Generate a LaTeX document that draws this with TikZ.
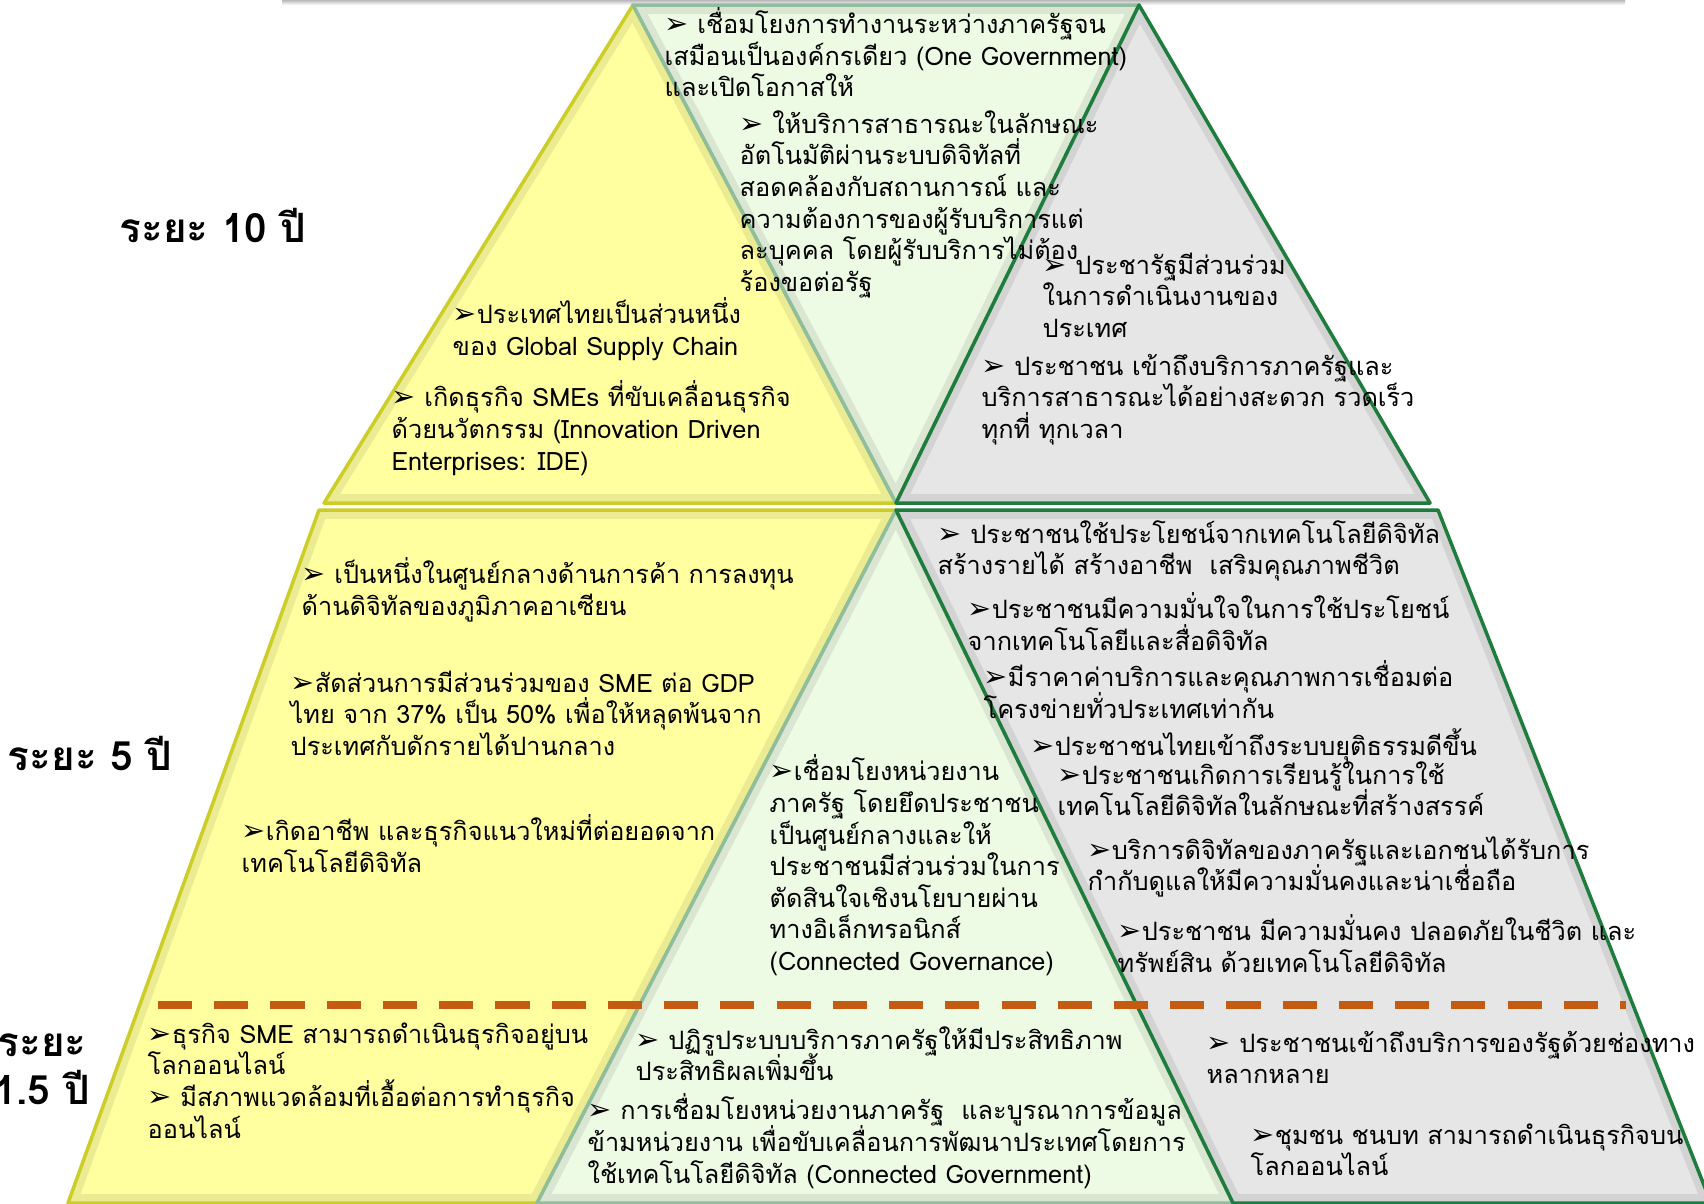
\documentclass[tikz,border=0pt]{standalone}
\usepackage{fontspec}
\usepackage{tikz}
\usepackage{xcolor}
\newfontfamily\thaif[Script=Thai]{Loma}
\newfontfamily\arrowf{DejaVu Sans}
\definecolor{pyellow}{RGB}{255,255,160}
\definecolor{pgreen}{RGB}{237,250,228}
\definecolor{pgray}{RGB}{230,230,230}
\definecolor{yedge}{RGB}{205,205,40}
\definecolor{gedge}{RGB}{30,125,60}
\definecolor{dashor}{RGB}{197,90,17}
\newcommand\bul{\rule{0pt}{7pt}{\arrowf\fontsize{8.2}{9}\selectfont ➢}}
\lineskiplimit=-9pt

\tikzset{
  txt/.style={font=\fontsize{7.2}{9}\thaif, align=left, inner sep=0pt, anchor=north west},
  era/.style={font=\fontsize{11.5}{13.7}\thaif\bfseries, align=center, inner sep=0pt},
  rim/.style={line width=5pt, draw=black, opacity=0.08},
  yelzone/.style={fill=pyellow, draw=yedge, line width=1pt, line join=round},
  grnzone/.style={fill=pgreen, draw=gedge!50, line width=1pt, line join=round},
  gryzone/.style={fill=pgray, draw=gedge, line width=1pt, line join=round}
}

\begin{document}
\begin{tikzpicture}[x=1cm, y=-1cm]
\useasboundingbox (0,0) rectangle (17.04,12.03);

% Corner points of the layers
\coordinate (ta) at (6.33,0.05);
\coordinate (tb) at (11.39,0.05);
\coordinate (tc) at (3.24,5.03);
\coordinate (td) at (8.96,5.03);
\coordinate (te) at (14.30,5.03);
\coordinate (ma) at (3.19,5.10);
\coordinate (mb) at (8.96,5.10);
\coordinate (mc) at (14.38,5.10);
\coordinate (ba) at (0.68,12.03);
\coordinate (bb) at (5.37,12.03);
\coordinate (bc) at (12.33,12.03);
\coordinate (bd) at (17.11,12.03);

% Shadow strip along the top
\shade[top color=gray!55, bottom color=white] (2.82,0) rectangle (16.25,0.05);

% Top layer: three triangles
\draw[yelzone, path picture={\draw[rim] (ta)--(td)--(tc)--cycle;}] (ta) -- (td) -- (tc) -- cycle;
\draw[grnzone, path picture={\draw[rim] (ta)--(tb)--(td)--cycle;}] (ta) -- (tb) -- (td) -- cycle;
\draw[gryzone, path picture={\draw[rim] (tb)--(te)--(td)--cycle;}] (tb) -- (te) -- (td) -- cycle;

% Lower layer: two slanted bands and a triangle
\draw[yelzone, path picture={\draw[rim] (ma)--(mb)--(bb)--(ba)--cycle;}] (ma) -- (mb) -- (bb) -- (ba) -- cycle;
\draw[grnzone, path picture={\draw[rim] (mb)--(bc)--(bb)--cycle;}] (mb) -- (bc) -- (bb) -- cycle;
\draw[gryzone, path picture={\draw[rim] (mb)--(mc)--(bd)--(bc)--cycle;}] (mb) -- (mc) -- (bd) -- (bc) -- cycle;

% Dashed split between 5 years and 1.5 years
\coordinate (dl) at (1.58,10.05);
\coordinate (dr) at (16.26,10.05);
\draw[dashor, line width=2.3pt, dash pattern=on 9.7pt off 6.3pt] (dl) -- (dr);

% Period labels
\node[era] (tenyr) at (2.13,2.25) {ระยะ 10 ปี};
\node[era] (fiveyr) at (0.90,7.53) {ระยะ 5 ปี};
\node[era] (shortyr) at (0.42,10.69) {ระยะ\\1.5 ปี};

% Top layer texts
\node[txt] (g1) at (6.64,0.07) {\bul{} เชื่อมโยงการทำงานระหว่างภาครัฐจน\\เสมือนเป็นองค์กรเดียว (One Government)\\และเปิดโอกาสให้};
\node[txt] (g2) at (7.39,1.08) {\bul{} ให้บริการสาธารณะในลักษณะ\\อัตโนมัติผ่านระบบดิจิทัลที่\\สอดคล้องกับสถานการณ์ และ\\ความต้องการของผู้รับบริการแต่\\ละบุคคล โดยผู้รับบริการไม่ต้อง\\ร้องขอต่อรัฐ};
\node[txt] (y1) at (4.52,2.97) {\bul ประเทศไทยเป็นส่วนหนึ่ง\\ของ Global Supply Chain};
\node[txt] (y2) at (3.91,3.80) {\bul{} เกิดธุรกิจ SMEs ที่ขับเคลื่อนธุรกิจ\\ด้วยนวัตกรรม (Innovation Driven\\Enterprises: IDE)};
\node[txt] (r1) at (10.42,2.49) {\bul{} ประชารัฐมีส่วนร่วม\\ในการดำเนินงานของ\\ประเทศ};
\node[txt] (r2) at (9.81,3.50) {\bul{} ประชาชน เข้าถึงบริการภาครัฐและ\\บริการสาธารณะได้อย่างสะดวก รวดเร็ว\\ทุกที่ ทุกเวลา};

% Middle layer texts
\node[txt] (y3) at (3.01,5.57) {\bul{} เป็นหนึ่งในศูนย์กลางด้านการค้า การลงทุน\\ด้านดิจิทัลของภูมิภาคอาเซียน};
\node[txt] (y4) at (2.90,6.67) {\bul สัดส่วนการมีส่วนร่วมของ SME ต่อ GDP\\ไทย จาก 37\% เป็น 50\% เพื่อให้หลุดพ้นจาก\\ประเทศกับดักรายได้ปานกลาง};
\node[txt] (y5) at (2.41,8.14) {\bul เกิดอาชีพ และธุรกิจแนวใหม่ที่ต่อยอดจาก\\เทคโนโลยีดิจิทัล};
\node[txt] (g3) at (7.69,7.54) {\bul เชื่อมโยงหน่วยงาน\\ภาครัฐ โดยยึดประชาชน\\เป็นศูนย์กลางและให้\\ประชาชนมีส่วนร่วมในการ\\ตัดสินใจเชิงนโยบายผ่าน\\ทางอิเล็กทรอนิกส์\\(Connected Governance)};
\node[txt] (r3) at (9.37,5.18) {\bul{} ประชาชนใช้ประโยชน์จากเทคโนโลยีดิจิทัล\\สร้างรายได้ สร้างอาชีพ~~เสริมคุณภาพชีวิต};
\node[txt] (r4) at (9.67,5.92) {\bul ประชาชนมีความมั่นใจในการใช้ประโยชน์\\จากเทคโนโลยีและสื่อดิจิทัล};
\node[txt] (r5) at (9.83,6.60) {\bul มีราคาค่าบริการและคุณภาพการเชื่อมต่อ\\โครงข่ายทั่วประเทศเท่ากัน};
\node[txt] (r6) at (10.30,7.28) {\bul ประชาชนไทยเข้าถึงระบบยุติธรรมดีขึ้น};
\node[txt] (r7) at (10.57,7.59) {\bul ประชาชนเกิดการเรียนรู้ในการใช้\\เทคโนโลยีดิจิทัลในลักษณะที่สร้างสรรค์};
\node[txt] (r8) at (10.87,8.34) {\bul บริการดิจิทัลของภาครัฐและเอกชนได้รับการ\\กำกับดูแลให้มีความมั่นคงและน่าเชื่อถือ};
\node[txt] (r9) at (11.17,9.14) {\bul ประชาชน มีความมั่นคง ปลอดภัยในชีวิต และ\\ทรัพย์สิน ด้วยเทคโนโลยีดิจิทัล};

% Bottom layer texts
\node[txt] (y6) at (1.47,10.18) {\bul ธุรกิจ SME สามารถดำเนินธุรกิจอยู่บน\\โลกออนไลน์\\\bul{} มีสภาพแวดล้อมที่เอื้อต่อการทำธุรกิจ\\ออนไลน์};
\node[txt] (g4) at (6.35,10.24) {\bul{} ปฏิรูประบบบริการภาครัฐให้มีประสิทธิภาพ\\ประสิทธิผลเพิ่มขึ้น};
\node[txt] (g5) at (5.87,10.93) {\bul{} การเชื่อมโยงหน่วยงานภาครัฐ~~และบูรณาการข้อมูล\\ข้ามหน่วยงาน เพื่อขับเคลื่อนการพัฒนาประเทศโดยการ\\ใช้เทคโนโลยีดิจิทัล (Connected Government)};
\node[txt] (r10) at (12.06,10.27) {\bul{} ประชาชนเข้าถึงบริการของรัฐด้วยช่องทาง\\หลากหลาย};
\node[txt] (r11) at (12.50,11.19) {\bul ชุมชน ชนบท สามารถดำเนินธุรกิจบน\\โลกออนไลน์};
\end{tikzpicture}
\end{document}
